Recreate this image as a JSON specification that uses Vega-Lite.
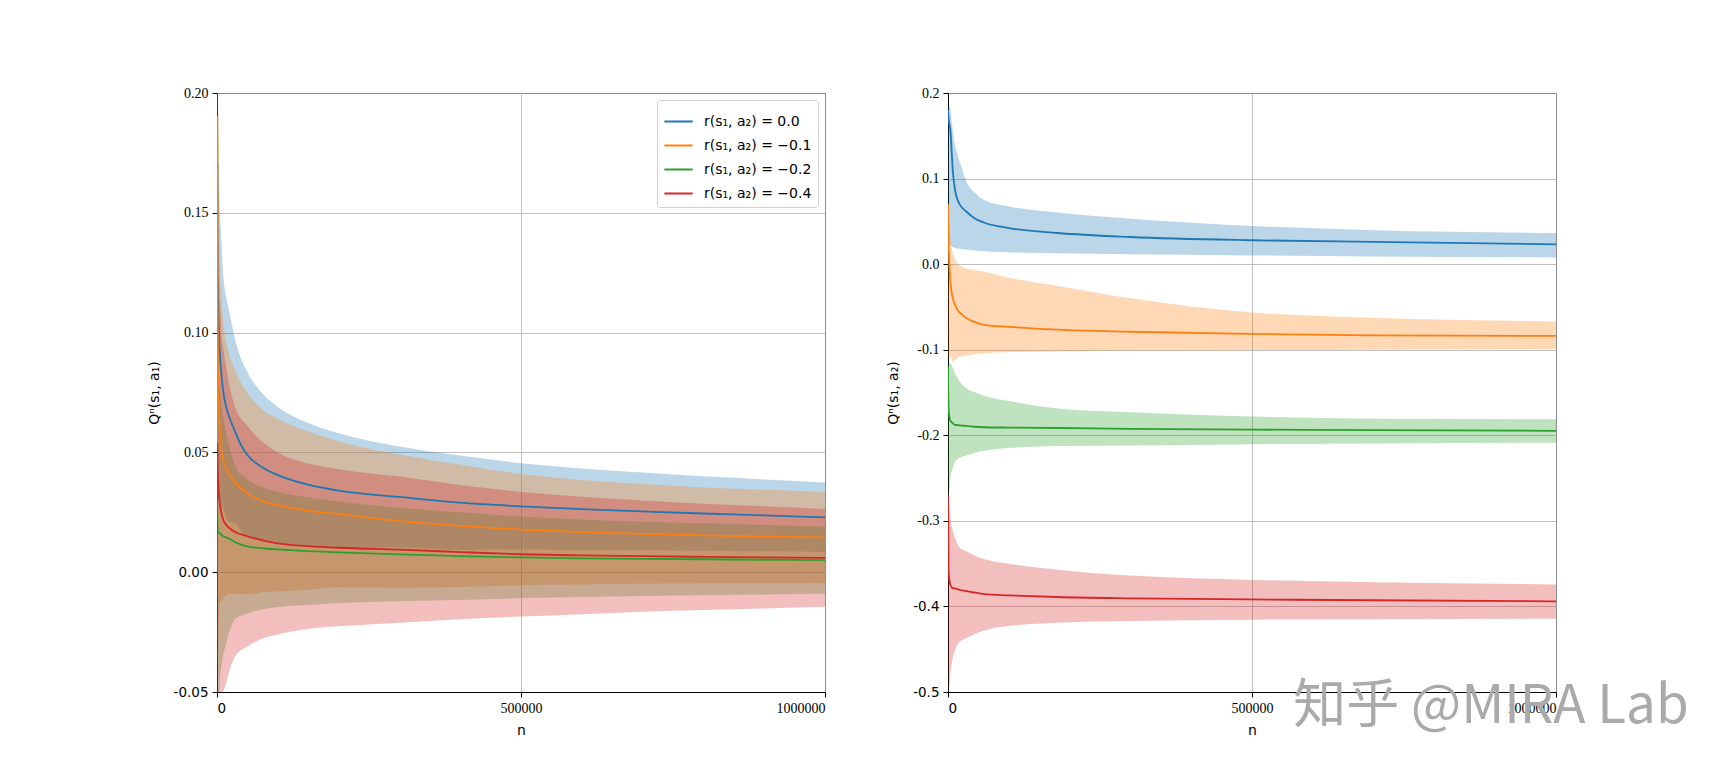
{
  "$schema": "https://vega.github.io/schema/vega-lite/v6.json",
  "background": "white",
  "padding": {"left": 146, "top": 85, "right": 5, "bottom": 5},
  "datasets": {
    "left": [
      {"n": 0, "r": "0.0", "m": 0, "lo": 0, "hi": 0},
      {"n": 500, "r": "0.0", "m": 0.17, "lo": 0.07, "hi": 0.27},
      {"n": 1000, "r": "0.0", "m": 0.13, "lo": 0.04, "hi": 0.22},
      {"n": 2500, "r": "0.0", "m": 0.105, "lo": 0.03, "hi": 0.18},
      {"n": 5000, "r": "0.0", "m": 0.09, "lo": 0.03, "hi": 0.15},
      {"n": 7500, "r": "0.0", "m": 0.082, "lo": 0.027, "hi": 0.137},
      {"n": 10000, "r": "0.0", "m": 0.076, "lo": 0.027, "hi": 0.125},
      {"n": 15000, "r": "0.0", "m": 0.069, "lo": 0.023, "hi": 0.115},
      {"n": 20000, "r": "0.0", "m": 0.065, "lo": 0.021, "hi": 0.109},
      {"n": 30000, "r": "0.0", "m": 0.0585, "lo": 0.0205, "hi": 0.097},
      {"n": 40000, "r": "0.0", "m": 0.0528, "lo": 0.0168, "hi": 0.0888},
      {"n": 50000, "r": "0.0", "m": 0.0489, "lo": 0.0143, "hi": 0.0835},
      {"n": 75000, "r": "0.0", "m": 0.0437, "lo": 0.0132, "hi": 0.0745},
      {"n": 100000, "r": "0.0", "m": 0.0405, "lo": 0.012, "hi": 0.069},
      {"n": 150000, "r": "0.0", "m": 0.0365, "lo": 0.0107, "hi": 0.0623},
      {"n": 200000, "r": "0.0", "m": 0.034, "lo": 0.01, "hi": 0.058},
      {"n": 300000, "r": "0.0", "m": 0.0314, "lo": 0.0103, "hi": 0.0525},
      {"n": 400000, "r": "0.0", "m": 0.029, "lo": 0.0093, "hi": 0.0487},
      {"n": 500000, "r": "0.0", "m": 0.0275, "lo": 0.0095, "hi": 0.0455},
      {"n": 600000, "r": "0.0", "m": 0.0263, "lo": 0.0093, "hi": 0.0433},
      {"n": 700000, "r": "0.0", "m": 0.0254, "lo": 0.0092, "hi": 0.0416},
      {"n": 800000, "r": "0.0", "m": 0.0245, "lo": 0.009, "hi": 0.04},
      {"n": 900000, "r": "0.0", "m": 0.0237, "lo": 0.0087, "hi": 0.0387},
      {"n": 1000000, "r": "0.0", "m": 0.0229, "lo": 0.0084, "hi": 0.0374},

      {"n": 0, "r": "-0.1", "m": 0, "lo": 0, "hi": 0},
      {"n": 500, "r": "-0.1", "m": 0.19, "lo": -0.01, "hi": 0.39},
      {"n": 1000, "r": "-0.1", "m": 0.11, "lo": -0.04, "hi": 0.26},
      {"n": 2500, "r": "-0.1", "m": 0.075, "lo": -0.025, "hi": 0.175},
      {"n": 5000, "r": "-0.1", "m": 0.058, "lo": -0.012, "hi": 0.128},
      {"n": 7500, "r": "-0.1", "m": 0.0505, "lo": -0.0125, "hi": 0.1135},
      {"n": 10000, "r": "-0.1", "m": 0.047, "lo": -0.011, "hi": 0.105},
      {"n": 15000, "r": "-0.1", "m": 0.0435, "lo": -0.0095, "hi": 0.0965},
      {"n": 20000, "r": "-0.1", "m": 0.0412, "lo": -0.0088, "hi": 0.0912},
      {"n": 30000, "r": "-0.1", "m": 0.0375, "lo": -0.009, "hi": 0.084},
      {"n": 50000, "r": "-0.1", "m": 0.0328, "lo": -0.0092, "hi": 0.0748},
      {"n": 75000, "r": "-0.1", "m": 0.0297, "lo": -0.0083, "hi": 0.0677},
      {"n": 100000, "r": "-0.1", "m": 0.028, "lo": -0.008, "hi": 0.064},
      {"n": 150000, "r": "-0.1", "m": 0.0257, "lo": -0.0073, "hi": 0.0587},
      {"n": 200000, "r": "-0.1", "m": 0.0242, "lo": -0.0063, "hi": 0.0547},
      {"n": 300000, "r": "-0.1", "m": 0.0213, "lo": -0.0065, "hi": 0.0491},
      {"n": 400000, "r": "-0.1", "m": 0.0193, "lo": -0.0062, "hi": 0.0448},
      {"n": 500000, "r": "-0.1", "m": 0.0178, "lo": -0.0054, "hi": 0.041},
      {"n": 600000, "r": "-0.1", "m": 0.0167, "lo": -0.0051, "hi": 0.0385},
      {"n": 700000, "r": "-0.1", "m": 0.016, "lo": -0.0048, "hi": 0.0368},
      {"n": 800000, "r": "-0.1", "m": 0.0154, "lo": -0.0046, "hi": 0.0354},
      {"n": 900000, "r": "-0.1", "m": 0.0149, "lo": -0.0046, "hi": 0.0344},
      {"n": 1000000, "r": "-0.1", "m": 0.0145, "lo": -0.0045, "hi": 0.0335},

      {"n": 0, "r": "-0.2", "m": 0, "lo": 0, "hi": 0},
      {"n": 500, "r": "-0.2", "m": 0.025, "lo": -0.065, "hi": 0.115},
      {"n": 1000, "r": "-0.2", "m": 0.018, "lo": -0.062, "hi": 0.098},
      {"n": 2500, "r": "-0.2", "m": 0.0165, "lo": -0.0535, "hi": 0.0865},
      {"n": 5000, "r": "-0.2", "m": 0.0162, "lo": -0.0438, "hi": 0.0762},
      {"n": 7500, "r": "-0.2", "m": 0.0155, "lo": -0.0385, "hi": 0.0695},
      {"n": 10000, "r": "-0.2", "m": 0.015, "lo": -0.035, "hi": 0.065},
      {"n": 15000, "r": "-0.2", "m": 0.0145, "lo": -0.0295, "hi": 0.0585},
      {"n": 20000, "r": "-0.2", "m": 0.014, "lo": -0.025, "hi": 0.053},
      {"n": 30000, "r": "-0.2", "m": 0.0125, "lo": -0.0195, "hi": 0.0445},
      {"n": 50000, "r": "-0.2", "m": 0.0108, "lo": -0.0172, "hi": 0.0388},
      {"n": 75000, "r": "-0.2", "m": 0.01, "lo": -0.0155, "hi": 0.0355},
      {"n": 100000, "r": "-0.2", "m": 0.0095, "lo": -0.0145, "hi": 0.0335},
      {"n": 150000, "r": "-0.2", "m": 0.0088, "lo": -0.0137, "hi": 0.0313},
      {"n": 200000, "r": "-0.2", "m": 0.0083, "lo": -0.0129, "hi": 0.0295},
      {"n": 300000, "r": "-0.2", "m": 0.0074, "lo": -0.0121, "hi": 0.0269},
      {"n": 400000, "r": "-0.2", "m": 0.0067, "lo": -0.0116, "hi": 0.025},
      {"n": 500000, "r": "-0.2", "m": 0.0062, "lo": -0.0108, "hi": 0.0232},
      {"n": 600000, "r": "-0.2", "m": 0.0058, "lo": -0.0104, "hi": 0.022},
      {"n": 700000, "r": "-0.2", "m": 0.0056, "lo": -0.0099, "hi": 0.0211},
      {"n": 800000, "r": "-0.2", "m": 0.0054, "lo": -0.0096, "hi": 0.0204},
      {"n": 900000, "r": "-0.2", "m": 0.0052, "lo": -0.0093, "hi": 0.0197},
      {"n": 1000000, "r": "-0.2", "m": 0.005, "lo": -0.009, "hi": 0.019},

      {"n": 0, "r": "-0.4", "m": 0, "lo": 0, "hi": 0},
      {"n": 500, "r": "-0.4", "m": 0.054, "lo": -0.096, "hi": 0.204},
      {"n": 1000, "r": "-0.4", "m": 0.045, "lo": -0.075, "hi": 0.165},
      {"n": 2500, "r": "-0.4", "m": 0.035, "lo": -0.065, "hi": 0.135},
      {"n": 5000, "r": "-0.4", "m": 0.028, "lo": -0.057, "hi": 0.113},
      {"n": 7500, "r": "-0.4", "m": 0.0245, "lo": -0.0505, "hi": 0.0995},
      {"n": 10000, "r": "-0.4", "m": 0.022, "lo": -0.05, "hi": 0.094},
      {"n": 15000, "r": "-0.4", "m": 0.0198, "lo": -0.0462, "hi": 0.0858},
      {"n": 20000, "r": "-0.4", "m": 0.0185, "lo": -0.0415, "hi": 0.0785},
      {"n": 30000, "r": "-0.4", "m": 0.0168, "lo": -0.0352, "hi": 0.0688},
      {"n": 50000, "r": "-0.4", "m": 0.015, "lo": -0.031, "hi": 0.061},
      {"n": 75000, "r": "-0.4", "m": 0.0133, "lo": -0.0277, "hi": 0.0543},
      {"n": 100000, "r": "-0.4", "m": 0.012, "lo": -0.026, "hi": 0.05},
      {"n": 150000, "r": "-0.4", "m": 0.0109, "lo": -0.0236, "hi": 0.0454},
      {"n": 200000, "r": "-0.4", "m": 0.0102, "lo": -0.0226, "hi": 0.043},
      {"n": 300000, "r": "-0.4", "m": 0.0094, "lo": -0.0211, "hi": 0.0399},
      {"n": 400000, "r": "-0.4", "m": 0.0084, "lo": -0.0196, "hi": 0.0364},
      {"n": 500000, "r": "-0.4", "m": 0.0075, "lo": -0.0185, "hi": 0.0335},
      {"n": 600000, "r": "-0.4", "m": 0.007, "lo": -0.0175, "hi": 0.0315},
      {"n": 700000, "r": "-0.4", "m": 0.0067, "lo": -0.0165, "hi": 0.0299},
      {"n": 800000, "r": "-0.4", "m": 0.0064, "lo": -0.0158, "hi": 0.0286},
      {"n": 900000, "r": "-0.4", "m": 0.0062, "lo": -0.0151, "hi": 0.0275},
      {"n": 1000000, "r": "-0.4", "m": 0.006, "lo": -0.0144, "hi": 0.0264}
    ],
    "right": [
      {"n": 0, "r": "0.0", "m": 0.18, "lo": 0.18, "hi": 0.18},
      {"n": 1000, "r": "0.0", "m": 0.17, "lo": 0.03, "hi": 0.185},
      {"n": 4000, "r": "0.0", "m": 0.156, "lo": 0.022, "hi": 0.18},
      {"n": 8000, "r": "0.0", "m": 0.108, "lo": 0.02, "hi": 0.155},
      {"n": 12000, "r": "0.0", "m": 0.085, "lo": 0.019, "hi": 0.138},
      {"n": 16000, "r": "0.0", "m": 0.0746, "lo": 0.0183, "hi": 0.127},
      {"n": 20000, "r": "0.0", "m": 0.069, "lo": 0.018, "hi": 0.118},
      {"n": 30000, "r": "0.0", "m": 0.0615, "lo": 0.017, "hi": 0.097},
      {"n": 45000, "r": "0.0", "m": 0.053, "lo": 0.016, "hi": 0.083},
      {"n": 60000, "r": "0.0", "m": 0.0484, "lo": 0.015, "hi": 0.0746},
      {"n": 100000, "r": "0.0", "m": 0.0422, "lo": 0.0138, "hi": 0.0674},
      {"n": 180000, "r": "0.0", "m": 0.0364, "lo": 0.0126, "hi": 0.0603},
      {"n": 300000, "r": "0.0", "m": 0.0317, "lo": 0.0115, "hi": 0.0531},
      {"n": 500000, "r": "0.0", "m": 0.0279, "lo": 0.0102, "hi": 0.0445},
      {"n": 700000, "r": "0.0", "m": 0.026, "lo": 0.009, "hi": 0.0397},
      {"n": 1000000, "r": "0.0", "m": 0.0231, "lo": 0.0078, "hi": 0.0364},

      {"n": 0, "r": "-0.1", "m": 0.07, "lo": 0.07, "hi": 0.07},
      {"n": 1000, "r": "-0.1", "m": 0.03, "lo": -0.11, "hi": 0.06},
      {"n": 4000, "r": "-0.1", "m": -0.021, "lo": -0.107, "hi": 0.03},
      {"n": 8000, "r": "-0.1", "m": -0.04, "lo": -0.114, "hi": 0.013},
      {"n": 12000, "r": "-0.1", "m": -0.048, "lo": -0.112, "hi": 0.005},
      {"n": 16000, "r": "-0.1", "m": -0.054, "lo": -0.109, "hi": 0.0},
      {"n": 20000, "r": "-0.1", "m": -0.057, "lo": -0.108, "hi": -0.002},
      {"n": 30000, "r": "-0.1", "m": -0.063, "lo": -0.107, "hi": -0.005},
      {"n": 45000, "r": "-0.1", "m": -0.068, "lo": -0.105, "hi": -0.007},
      {"n": 60000, "r": "-0.1", "m": -0.0709, "lo": -0.104, "hi": -0.009},
      {"n": 100000, "r": "-0.1", "m": -0.0733, "lo": -0.103, "hi": -0.016},
      {"n": 180000, "r": "-0.1", "m": -0.0766, "lo": -0.102, "hi": -0.0256},
      {"n": 300000, "r": "-0.1", "m": -0.079, "lo": -0.101, "hi": -0.04},
      {"n": 500000, "r": "-0.1", "m": -0.0814, "lo": -0.1005, "hi": -0.0566},
      {"n": 700000, "r": "-0.1", "m": -0.0833, "lo": -0.1, "hi": -0.0627},
      {"n": 1000000, "r": "-0.1", "m": -0.0838, "lo": -0.0993, "hi": -0.067},

      {"n": 0, "r": "-0.2", "m": -0.12, "lo": -0.12, "hi": -0.12},
      {"n": 1000, "r": "-0.2", "m": -0.17, "lo": -0.27, "hi": -0.115},
      {"n": 4000, "r": "-0.2", "m": -0.183, "lo": -0.25, "hi": -0.116},
      {"n": 8000, "r": "-0.2", "m": -0.186, "lo": -0.238, "hi": -0.121},
      {"n": 12000, "r": "-0.2", "m": -0.188, "lo": -0.2306, "hi": -0.128},
      {"n": 16000, "r": "-0.2", "m": -0.188, "lo": -0.228, "hi": -0.133},
      {"n": 20000, "r": "-0.2", "m": -0.1885, "lo": -0.226, "hi": -0.138},
      {"n": 30000, "r": "-0.2", "m": -0.189, "lo": -0.2235, "hi": -0.145},
      {"n": 45000, "r": "-0.2", "m": -0.19, "lo": -0.22, "hi": -0.15},
      {"n": 60000, "r": "-0.2", "m": -0.1906, "lo": -0.218, "hi": -0.154},
      {"n": 100000, "r": "-0.2", "m": -0.191, "lo": -0.215, "hi": -0.16},
      {"n": 180000, "r": "-0.2", "m": -0.1915, "lo": -0.2125, "hi": -0.1686},
      {"n": 300000, "r": "-0.2", "m": -0.1925, "lo": -0.212, "hi": -0.173},
      {"n": 500000, "r": "-0.2", "m": -0.1934, "lo": -0.2105, "hi": -0.178},
      {"n": 700000, "r": "-0.2", "m": -0.194, "lo": -0.2095, "hi": -0.1806},
      {"n": 1000000, "r": "-0.2", "m": -0.1948, "lo": -0.2087, "hi": -0.1813},

      {"n": 0, "r": "-0.4", "m": -0.27, "lo": -0.27, "hi": -0.27},
      {"n": 1000, "r": "-0.4", "m": -0.36, "lo": -0.5, "hi": -0.27},
      {"n": 4000, "r": "-0.4", "m": -0.375, "lo": -0.478, "hi": -0.297},
      {"n": 8000, "r": "-0.4", "m": -0.3785, "lo": -0.46, "hi": -0.312},
      {"n": 12000, "r": "-0.4", "m": -0.379, "lo": -0.45, "hi": -0.321},
      {"n": 16000, "r": "-0.4", "m": -0.38, "lo": -0.444, "hi": -0.328},
      {"n": 20000, "r": "-0.4", "m": -0.3808, "lo": -0.441, "hi": -0.332},
      {"n": 30000, "r": "-0.4", "m": -0.382, "lo": -0.437, "hi": -0.3355},
      {"n": 45000, "r": "-0.4", "m": -0.384, "lo": -0.432, "hi": -0.341},
      {"n": 60000, "r": "-0.4", "m": -0.3856, "lo": -0.428, "hi": -0.345},
      {"n": 100000, "r": "-0.4", "m": -0.387, "lo": -0.423, "hi": -0.35},
      {"n": 180000, "r": "-0.4", "m": -0.389, "lo": -0.419, "hi": -0.357},
      {"n": 300000, "r": "-0.4", "m": -0.3905, "lo": -0.417, "hi": -0.364},
      {"n": 500000, "r": "-0.4", "m": -0.3918, "lo": -0.4155, "hi": -0.369},
      {"n": 700000, "r": "-0.4", "m": -0.3928, "lo": -0.415, "hi": -0.3716},
      {"n": 1000000, "r": "-0.4", "m": -0.394, "lo": -0.4144, "hi": -0.3743}
    ],
    "watermark": [
      {"label": "知乎 @MIRA Lab", "n": 893000, "m": -0.536}
    ]
  },
  "config": {
    "view": {"stroke": "black", "strokeWidth": 1},
    "axis": {
      "grid": true,
      "gridColor": "#b0b0b0",
      "gridWidth": 0.8,
      "domainColor": "black",
      "tickColor": "black",
      "tickSize": 5,
      "labelPadding": 4,
      "labelColor": "black",
      "titleFont": "DejaVu Sans",
      "titleFontSize": 14,
      "titleFontWeight": "normal",
      "titleColor": "black"
    }
  },
  "spacing": 123,
  "bounds": "flush",
  "resolve": {
    "scale": {"x": "independent", "y": "independent", "color": "shared"},
    "legend": {"color": "independent"}
  },
  "hconcat": [
    {
      "width": 608,
      "height": 599,
      "data": {"name": "left"},
      "encoding": {
        "x": {
          "field": "n",
          "type": "quantitative",
          "scale": {"domain": [0, 1000000], "nice": false},
          "axis": {
            "title": "n",
            "titlePadding": 8,
            "values": [0, 500000, 1000000],
            "labelExpr": "format(datum.value, 'd')",
            "labelFont": {"condition": {"test": "datum.value == 0", "value": "DejaVu Sans"}, "value": "Liberation Serif"},
            "labelFontSize": {"condition": {"test": "datum.value == 0", "value": 13.5}, "value": 14}
          }
        }
      },
      "layer": [
        {
          "transform": [{"filter": "datum.r === '0.0'"}],
          "mark": {"type": "area", "color": "#1f77b4", "opacity": 0.3, "clip": true, "interpolate": "monotone"},
          "encoding": {
            "y": {
              "field": "lo",
              "type": "quantitative",
              "scale": {"domain": [-0.05, 0.2], "nice": false, "zero": false},
              "axis": {
                "title": "Qⁿ(s₁, a₁)",
                "titlePadding": 12,
                "values": [-0.05, 0, 0.05, 0.1, 0.15, 0.2],
                "labelExpr": "replace(format(datum.value, '.2f'), '−', '-')",
                "labelFont": {"condition": {"test": "datum.value <= 0.001", "value": "DejaVu Sans"}, "value": "Liberation Serif"},
                "labelFontSize": {"condition": {"test": "datum.value <= 0.001", "value": 13.5}, "value": 14}
              }
            },
            "y2": {"field": "hi"}
          }
        },
        {
          "transform": [{"filter": "datum.r === '-0.1'"}],
          "mark": {"type": "area", "color": "#ff7f0e", "opacity": 0.3, "clip": true, "interpolate": "monotone"},
          "encoding": {"y": {"field": "lo", "type": "quantitative"}, "y2": {"field": "hi"}}
        },
        {
          "transform": [{"filter": "datum.r === '-0.2'"}],
          "mark": {"type": "area", "color": "#2ca02c", "opacity": 0.3, "clip": true, "interpolate": "monotone"},
          "encoding": {"y": {"field": "lo", "type": "quantitative"}, "y2": {"field": "hi"}}
        },
        {
          "transform": [{"filter": "datum.r === '-0.4'"}],
          "mark": {"type": "area", "color": "#d62728", "opacity": 0.3, "clip": true, "interpolate": "monotone"},
          "encoding": {"y": {"field": "lo", "type": "quantitative"}, "y2": {"field": "hi"}}
        },
        {
          "mark": {"type": "line", "strokeWidth": 1.8, "clip": true, "interpolate": "monotone"},
          "encoding": {
            "y": {"field": "m", "type": "quantitative"},
            "color": {
              "field": "r",
              "type": "nominal",
              "scale": {"domain": ["0.0", "-0.1", "-0.2", "-0.4"], "range": ["#1f77b4", "#ff7f0e", "#2ca02c", "#d62728"]},
              "legend": {
                "title": null,
                "orient": "top-right",
                "offset": 7,
                "padding": 6,
                "fillColor": "white",
                "strokeColor": "#d0d0d0",
                "cornerRadius": 3,
                "symbolType": "stroke",
                "symbolStrokeWidth": 2,
                "symbolSize": 800,
                "rowPadding": 1,
                "labelOffset": 10,
                "labelFont": "DejaVu Sans",
                "labelFontSize": 14,
                "labelColor": "black",
                "labelExpr": "'r(s₁, a₂) = ' + replace(datum.label, '-', '−')"
              }
            }
          }
        }
      ]
    },
    {
      "width": 608,
      "height": 599,
      "data": {"name": "right"},
      "encoding": {
        "x": {
          "field": "n",
          "type": "quantitative",
          "scale": {"domain": [0, 1000000], "nice": false},
          "axis": {
            "title": "n",
            "titlePadding": 8,
            "values": [0, 500000, 1000000],
            "labelExpr": "format(datum.value, 'd')",
            "labelFont": {"condition": {"test": "datum.value == 0", "value": "DejaVu Sans"}, "value": "Liberation Serif"},
            "labelFontSize": {"condition": {"test": "datum.value == 0", "value": 13.5}, "value": 14}
          }
        }
      },
      "layer": [
        {
          "transform": [{"filter": "datum.r === '0.0'"}],
          "mark": {"type": "area", "color": "#1f77b4", "opacity": 0.3, "clip": true, "interpolate": "monotone"},
          "encoding": {
            "y": {
              "field": "lo",
              "type": "quantitative",
              "scale": {"domain": [-0.5, 0.2], "nice": false, "zero": false},
              "axis": {
                "title": "Qⁿ(s₁, a₂)",
                "titlePadding": 12,
                "values": [-0.5, -0.4, -0.3, -0.2, -0.1, 0, 0.1, 0.2],
                "labelExpr": "replace(format(datum.value, '.1f'), '−', '-')",
                "labelFont": {"condition": {"test": "datum.value < -0.35", "value": "DejaVu Sans"}, "value": "Liberation Serif"},
                "labelFontSize": {"condition": {"test": "datum.value < -0.35", "value": 13.5}, "value": 14}
              }
            },
            "y2": {"field": "hi"}
          }
        },
        {
          "transform": [{"filter": "datum.r === '-0.1'"}],
          "mark": {"type": "area", "color": "#ff7f0e", "opacity": 0.3, "clip": true, "interpolate": "monotone"},
          "encoding": {"y": {"field": "lo", "type": "quantitative"}, "y2": {"field": "hi"}}
        },
        {
          "transform": [{"filter": "datum.r === '-0.2'"}],
          "mark": {"type": "area", "color": "#2ca02c", "opacity": 0.3, "clip": true, "interpolate": "monotone"},
          "encoding": {"y": {"field": "lo", "type": "quantitative"}, "y2": {"field": "hi"}}
        },
        {
          "transform": [{"filter": "datum.r === '-0.4'"}],
          "mark": {"type": "area", "color": "#d62728", "opacity": 0.3, "clip": true, "interpolate": "monotone"},
          "encoding": {"y": {"field": "lo", "type": "quantitative"}, "y2": {"field": "hi"}}
        },
        {
          "mark": {"type": "line", "strokeWidth": 1.8, "clip": true, "interpolate": "monotone"},
          "encoding": {
            "y": {"field": "m", "type": "quantitative"},
            "color": {"field": "r", "type": "nominal", "legend": null}
          }
        },
        {
          "data": {"name": "watermark"},
          "mark": {"type": "text", "font": "Noto Sans CJK SC", "fontSize": 53, "color": "#aaaaaa", "align": "center", "baseline": "alphabetic", "clip": false},
          "encoding": {
            "y": {"field": "m", "type": "quantitative"},
            "text": {"field": "label"}
          }
        }
      ]
    }
  ]
}
